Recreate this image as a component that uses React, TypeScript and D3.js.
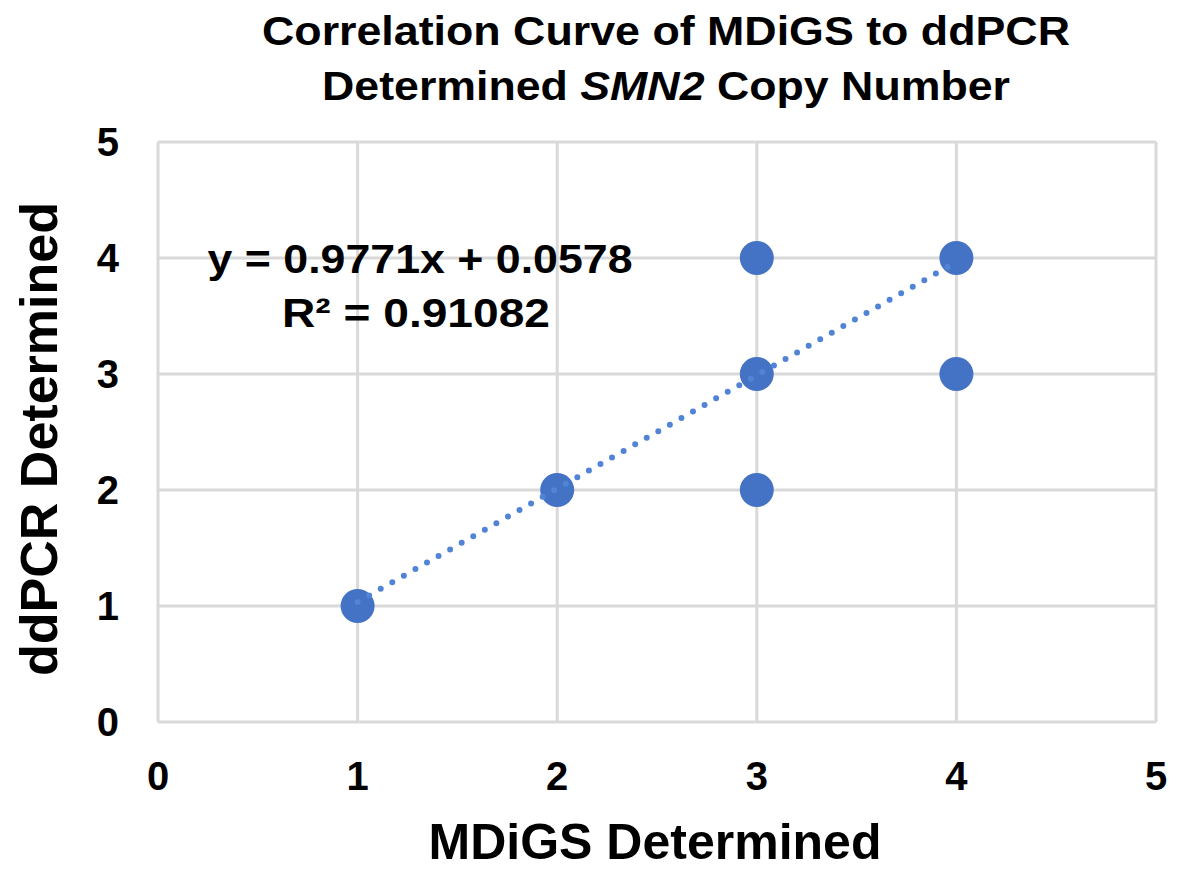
import React from 'react';
import * as d3 from 'd3';

// MDiGS (x) vs ddPCR (y) determined SMN2 copy number
const mdigsValues = [1, 2, 3, 3, 3, 4, 4];
const ddpcrValues = [1, 2, 2, 3, 4, 3, 4];
const xTicks = [0, 1, 2, 3, 4, 5];
const yTicks = [0, 1, 2, 3, 4, 5];
const trendSlope = 0.9771;
const trendIntercept = 0.0578;
const trendRange = [1, 4];

const W = 1183;
const H = 873;
const font = '"Liberation Sans", Arial, Helvetica, sans-serif';

const App = () => {
  const x = d3.scaleLinear().domain([0, 5]).range([158, 1156]);
  const y = d3.scaleLinear().domain([0, 5]).range([722, 142]);

  const points = mdigsValues.map((v, i) => ({ x: v, y: ddpcrValues[i] }));
  const trend = trendRange.map((v) => [v, trendSlope * v + trendIntercept]);
  const line = d3
    .line<number[]>()
    .x((d) => x(d[0]))
    .y((d) => y(d[1]));

  const grid = '#d9d9d9';

  return (
    <svg width={W} height={H} style={{ position: 'absolute', left: 0, top: 0, background: '#fff' }}>
      {/* title */}
      <text x={666} y={45} textAnchor="middle" fontFamily={font} fontWeight="bold" fontSize={41}
        textLength={808} lengthAdjust="spacingAndGlyphs">
        Correlation Curve of MDiGS to ddPCR
      </text>
      <text x={666} y={100} textAnchor="middle" fontFamily={font} fontWeight="bold" fontSize={41}
        textLength={688} lengthAdjust="spacingAndGlyphs">
        Determined <tspan fontStyle="italic">SMN2</tspan> Copy Number
      </text>

      {/* grid */}
      {xTicks.map((t) => (
        <line key={'gx' + t} x1={x(t)} x2={x(t)} y1={y(5)} y2={y(0)} stroke={grid} strokeWidth={3} />
      ))}
      {yTicks.map((t) => (
        <line key={'gy' + t} x1={x(0)} x2={x(5)} y1={y(t)} y2={y(t)} stroke={grid} strokeWidth={3} />
      ))}

      {/* tick labels */}
      {xTicks.map((t) => (
        <text key={'tx' + t} x={x(t)} y={790} textAnchor="middle" fontFamily={font} fontWeight="bold" fontSize={40}>
          {t}
        </text>
      ))}
      {yTicks.map((t) => (
        <text key={'ty' + t} x={119} y={y(t) + 14} textAnchor="end" fontFamily={font} fontWeight="bold" fontSize={40}>
          {t}
        </text>
      ))}

      {/* axis titles */}
      <text x={655} y={859} textAnchor="middle" fontFamily={font} fontWeight="bold" fontSize={50}>
        MDiGS Determined
      </text>
      <text
        transform={`translate(57, 439) rotate(-90)`}
        textAnchor="middle"
        fontFamily={font}
        fontWeight="bold"
        fontSize={52}
      >
        ddPCR Determined
      </text>

      {/* points */}
      {points.map((p, i) => (
        <circle key={i} cx={x(p.x)} cy={y(p.y)} r={17} fill="#4472c4" />
      ))}

      {/* linear trendline */}
      <path
        d={line(trend) || ''}
        fill="none"
        stroke="#5284d6"
        strokeWidth={6}
        strokeLinecap="round"
        strokeDasharray="0 13.3"
      />

      {/* equation */}
      <text x={420} y={273} textAnchor="middle" fontFamily={font} fontWeight="bold" fontSize={41}
        textLength={425} lengthAdjust="spacingAndGlyphs">
        y = 0.9771x + 0.0578
      </text>
      <text x={416} y={327} textAnchor="middle" fontFamily={font} fontWeight="bold" fontSize={41}
        textLength={268} lengthAdjust="spacingAndGlyphs">
        R² = 0.91082
      </text>
    </svg>
  );
};

export default App;
